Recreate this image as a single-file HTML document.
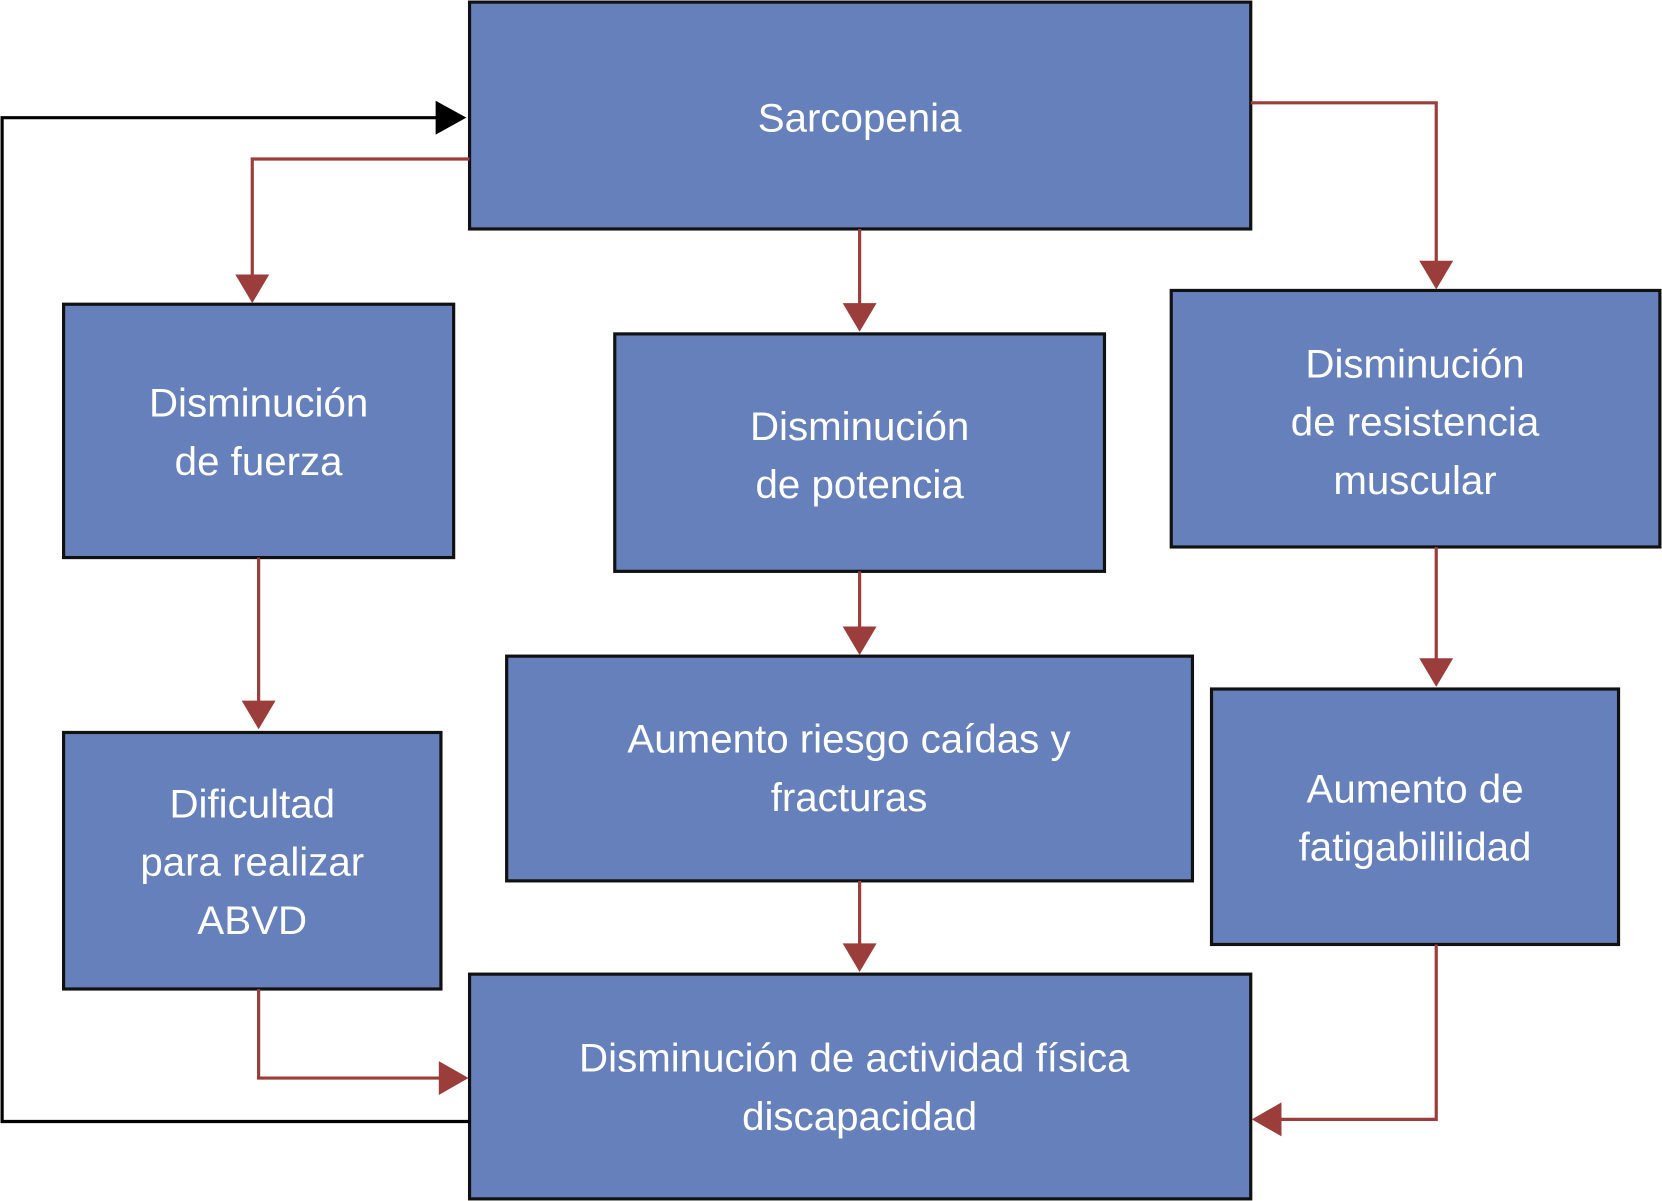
<!DOCTYPE html>
<html><head><meta charset="utf-8"><style>
html,body{margin:0;padding:0;background:#fff;}
svg{display:block;}
text{font-family:"Liberation Sans",sans-serif;font-size:38px;fill:#fff;text-anchor:middle;}
</style></head><body>
<svg width="1662" height="1201" viewBox="0 0 1568 1133" preserveAspectRatio="none" xmlns="http://www.w3.org/2000/svg">
<g fill="#6680bb" stroke="#111" stroke-width="3">
<rect x="443" y="2" width="737" height="214"/>
<rect x="60" y="287" width="368" height="239"/>
<rect x="580" y="315" width="462" height="224"/>
<rect x="1105" y="274" width="461" height="242"/>
<rect x="60" y="691" width="356" height="242"/>
<rect x="478" y="619" width="647" height="212"/>
<rect x="1143" y="650" width="384" height="241"/>
<rect x="443" y="919" width="737" height="212"/>
</g>
<g fill="none" stroke="#9b3d3a" stroke-width="3">
<polyline points="443,150 238,150 238,262"/>
<line x1="811" y1="216" x2="811" y2="290"/>
<polyline points="1180,97 1355,97 1355,250"/>
<line x1="244" y1="526" x2="244" y2="665"/>
<line x1="811" y1="539" x2="811" y2="595"/>
<line x1="1355" y1="516" x2="1355" y2="625"/>
<line x1="811" y1="831" x2="811" y2="893"/>
<polyline points="244,933 244,1017 418,1017"/>
<polyline points="1355,891 1355,1056 1205,1056"/>
</g>
<g fill="#9b3d3a">
<polygon points="222,259 254,259 238,286"/>
<polygon points="795,286 827,286 811,313"/>
<polygon points="1339,246 1371,246 1355,273"/>
<polygon points="228,661 260,661 244,688"/>
<polygon points="795,591 827,591 811,618"/>
<polygon points="1339,621 1371,621 1355,648"/>
<polygon points="795,890 827,890 811,917"/>
<polygon points="414,1001 414,1033 442,1017"/>
<polygon points="1209,1040 1209,1072 1181,1056"/>
</g>
<polyline points="443,1058 2,1058 2,111 415,111" fill="none" stroke="#000" stroke-width="3"/>
<polygon points="411,95 411,127 440,111" fill="#000"/>
<text x="811" y="124">Sarcopenia</text>
<text x="244" y="393">Disminución</text>
<text x="244" y="448">de fuerza</text>
<text x="811" y="415">Disminución</text>
<text x="811" y="470">de potencia</text>
<text x="1335" y="356">Disminución</text>
<text x="1335" y="411">de resistencia</text>
<text x="1335" y="466">muscular</text>
<text x="238" y="771">Dificultad</text>
<text x="238" y="826">para realizar</text>
<text x="238" y="881">ABVD</text>
<text x="801" y="710">Aumento riesgo caídas y</text>
<text x="801" y="765">fracturas</text>
<text x="1335" y="757">Aumento de</text>
<text x="1335" y="812">fatigabililidad</text>
<text x="806" y="1011">Disminución de actividad física</text>
<text x="811" y="1066">discapacidad</text>
</svg>
</body></html>
